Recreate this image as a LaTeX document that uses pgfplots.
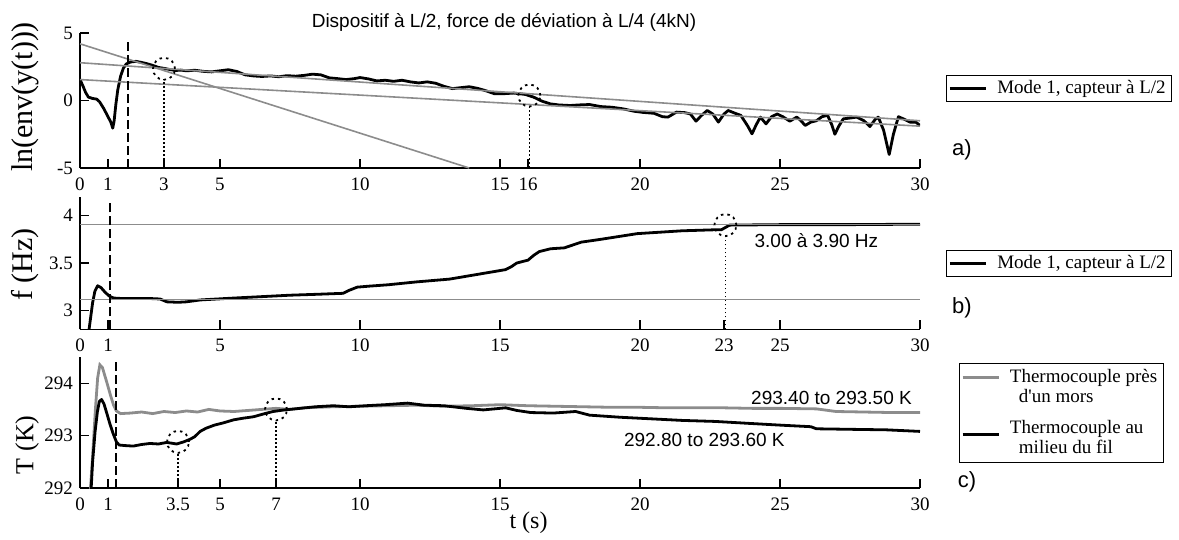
\documentclass[border=0pt]{standalone}
\usepackage{fontspec}
\setmainfont{Liberation Serif}
\newfontfamily\arial{Liberation Sans}
\usepackage{pgfplots}
\pgfplotsset{compat=1.18}
\definecolor{lgray}{RGB}{140,140,140}
\pgfplotsset{
  myaxis/.style={
    scale only axis, width=420pt,
    xmin=0, xmax=30,
    axis x line=bottom, axis y line=left,
    axis line style={-, line width=0.6pt},
    tick align=inside, major tick length=4.5pt,
    tick style={line width=0.6pt, black},
    ticklabel style={font=\fontsize{9.5}{11}\selectfont},
    xticklabel style={yshift=-1.3pt},
    legend style={draw=black, line width=0.5pt, font=\fontsize{9.5}{10}\selectfont,
      anchor=north west, inner xsep=1pt, inner ysep=0.5pt, nodes={inner sep=2pt},
      legend cell align=left},
    legend image code/.code={\draw[##1] (0pt,0pt) -- (18pt,0pt); \path (21pt,0pt);},
    clip=true,
  },
  blk/.style={black, line width=1.4pt, line join=round},
  gl/.style={lgray, line width=0.8pt},
  dashv/.style={black, line width=1pt, dash pattern=on 4.5pt off 2pt},
  dotv/.style={black, line width=0.8pt, dash pattern=on 0.8pt off 1.2pt},
  circ/.style={only marks, mark=o, mark size=5.5pt, mark options={black, line width=0.9pt, dash pattern=on 1.2pt off 2pt}},
}
\begin{document}
\begin{tikzpicture}
\path[use as bounding box] (0,0) rectangle (589.5pt,-270pt);
\node[font=\arial\fontsize{9.5}{11}\selectfont] at (252pt,-11pt) {Dispositif à L/2, force de déviation à L/4 (4kN)};

% ---------------- panel a
\begin{axis}[myaxis, at={(40pt,-84pt)}, anchor=south west, height=67.5pt,
  ymin=-5, ymax=5, ytick={-5,0,5}, yticklabels={-5,0,5},
  xtick={0,1,3,5,10,15,16,20,25,30}, xticklabels={0,1,3,5,10,15,16,20,25,30},
  ylabel={ln(env(y(t)))},
  ylabel style={at={(axis description cs:-0.0655,0.526)}, anchor=center, font=\fontsize{15}{17}\selectfont},
  legend style={at={(1.031,0.689)}}]
\addplot[blk] coordinates {
(0,1.55) (0.1,1.1) (0.2,0.6) (0.3,0.25) (0.45,0.15) (0.6,0.1) (0.7,-0.1) (0.85,-0.6)
(1.0,-1.2) (1.1,-1.6) (1.17,-2.05) (1.22,-1.5) (1.28,-0.3) (1.35,0.8) (1.45,1.8) (1.55,2.4)
(1.65,2.7) (1.8,2.85) (2.0,2.9) (2.2,2.82) (2.4,2.72) (2.6,2.6) (2.8,2.45) (3.0,2.38)
(3.2,2.3) (3.4,2.22) (3.6,2.25) (3.8,2.2) (4.1,2.24) (4.4,2.16) (4.7,2.12) (5.0,2.2)
(5.3,2.28) (5.6,2.15) (5.9,1.9) (6.2,1.82) (6.5,1.78) (6.8,1.82) (7.1,1.76) (7.4,1.84)
(7.7,1.8) (8.0,1.86) (8.3,1.95) (8.6,1.9) (8.9,1.68) (9.2,1.62) (9.5,1.55) (9.8,1.62)
(10.0,1.7) (10.3,1.6) (10.6,1.45) (10.9,1.5) (11.2,1.42) (11.5,1.5) (11.8,1.38) (12.1,1.3)
(12.4,1.38) (12.7,1.28) (13.0,1.05) (13.3,0.88) (13.6,0.95) (13.9,1.02) (14.2,0.9) (14.5,0.72)
(14.8,0.5) (15.1,0.5) (15.5,0.55) (15.9,0.45) (16.2,0.25) (16.5,-0.05) (16.8,-0.25) (17.1,-0.33)
(17.5,-0.37) (17.9,-0.32) (18.2,-0.3) (18.6,-0.45) (19.0,-0.5) (19.4,-0.62) (19.8,-0.8) (20.1,-0.88)
(20.5,-0.95) (20.8,-1.2) (21.0,-1.23) (21.3,-0.86) (21.6,-0.9) (21.8,-1.0) (22.0,-1.53) (22.2,-1.1)
(22.4,-0.74) (22.6,-1.0) (22.8,-1.6) (23.0,-1.0) (23.15,-0.74) (23.4,-0.95) (23.6,-1.1) (23.85,-1.9)
(24.0,-2.47) (24.15,-1.8) (24.3,-1.23) (24.5,-1.73) (24.7,-1.2) (24.9,-1.0) (25.1,-1.2) (25.35,-1.53)
(25.6,-1.23) (25.75,-1.5) (25.9,-1.85) (26.1,-1.6) (26.3,-1.5) (26.5,-1.2) (26.7,-1.1) (26.85,-1.8)
(26.96,-2.5) (27.1,-1.9) (27.26,-1.36) (27.5,-1.3) (27.74,-1.23) (28.0,-1.5) (28.21,-1.93) (28.4,-1.4)
(28.51,-1.23) (28.7,-2.2) (28.9,-4.0) (29.05,-2.5) (29.23,-1.2) (29.45,-1.4) (29.64,-1.6) (29.85,-1.6)
(30,-1.85)};
\addlegendentry{Mode 1, capteur à L/2}
\addplot[gl, forget plot] coordinates {(0,4.2) (13.9,-5)};
\addplot[gl, forget plot] coordinates {(0,2.8) (30,-1.5)};
\addplot[gl, forget plot] coordinates {(0,1.55) (30,-1.9)};
\addplot[dashv, forget plot] coordinates {(1.7,-5) (1.7,4.5)};
\addplot[dotv, forget plot] coordinates {(3,-5) (3,1.6)};
\addplot[dotv, forget plot] coordinates {(16.05,-5) (16.05,-0.37)};
\addplot[circ, forget plot] coordinates {(3,2.35) (16.05,0.37)};
\end{axis}

% ---------------- panel b
\begin{axis}[myaxis, at={(40pt,-164.65pt)}, anchor=south west, height=66.3pt,
  ymin=2.8, ymax=4.2, ytick={3,3.5,4}, yticklabels={3,3.5,4},
  xtick={0,1,5,10,15,20,23,25,30}, xticklabels={0,1,5,10,15,20,23,25,30},
  ylabel={f (Hz)},
  ylabel style={at={(axis description cs:-0.0655,0.49)}, anchor=center, font=\fontsize{15}{17}\selectfont},
  legend style={at={(1.031,0.598)}}]
\addplot[blk] coordinates {
(0.28,2.7) (0.36,2.88) (0.45,3.08) (0.53,3.2) (0.63,3.26) (0.75,3.24) (0.9,3.19) (1.05,3.15)
(1.2,3.13) (1.5,3.125) (2.0,3.125) (2.5,3.125) (2.86,3.12) (3.1,3.09) (3.5,3.085) (3.8,3.09)
(4.3,3.11) (4.9,3.12) (5.5,3.13) (6.5,3.145) (7.5,3.16) (8.5,3.17) (9.4,3.18) (9.6,3.21)
(9.9,3.245) (10.3,3.255) (11,3.27) (12,3.3) (13.2,3.33) (14.4,3.39) (15.2,3.43) (15.4,3.46)
(15.6,3.5) (16.0,3.53) (16.2,3.58) (16.4,3.62) (16.8,3.65) (17.3,3.66) (17.6,3.69) (17.9,3.72)
(18.6,3.75) (19.9,3.81) (21.5,3.84) (22.6,3.85) (22.9,3.85) (23.2,3.9) (25,3.905) (27.5,3.905)
(30,3.91)};
\addlegendentry{Mode 1, capteur à L/2}
\addplot[gl, forget plot] coordinates {(0,3.905) (30,3.905)};
\addplot[gl, forget plot] coordinates {(0,3.115) (30,3.115)};
\addplot[dashv, forget plot] coordinates {(1.07,2.8) (1.07,4.14)};
\addplot[dotv, forget plot] coordinates {(23.05,2.8) (23.05,3.77)};
\addplot[circ, forget plot] coordinates {(23.05,3.9)};
\node[font=\arial\fontsize{9.5}{11}\selectfont] at (axis cs:26.3,3.74) {3.00 à 3.90 Hz};
\end{axis}

% ---------------- panel c
\begin{axis}[myaxis, at={(40pt,-244pt)}, anchor=south west, height=65.5pt,
  ymin=292, ymax=294.5, ytick={292,293,294}, yticklabels={292,293,294},
  xtick={0,1,3.5,5,7,10,15,20,25,30}, xticklabels={0,1,3.5,5,7,10,15,20,25,30},
  ylabel={T (K)},
  ylabel style={at={(axis description cs:-0.063,0.33)}, anchor=center, font=\fontsize{13}{15}\selectfont},
  xlabel={t (s)},
  xlabel style={at={(axis description cs:0.534,-0.262)}, anchor=center, font=\fontsize{12}{14}\selectfont},
  legend style={at={(1.046,0.954)}, row sep=3.5pt, inner ysep=1pt, cells={align=left}}]
\addplot[lgray, line width=1.4pt, legend image post style={yshift=5pt}] coordinates {
(0.35,291.8) (0.45,292.6) (0.55,293.5) (0.63,294.1) (0.71,294.35) (0.8,294.3) (0.95,294.03) (1.1,293.75)
(1.2,293.58) (1.3,293.47) (1.45,293.42) (1.8,293.43) (2.2,293.45) (2.6,293.42) (3.0,293.46) (3.4,293.44)
(3.8,293.47) (4.2,293.45) (4.6,293.5) (5.0,293.47) (5.5,293.46) (6.0,293.48) (6.5,293.5) (7.0,293.52)
(7.5,293.5) (8,293.53) (9,293.55) (10,293.56) (11,293.57) (12,293.58) (13,293.56) (14,293.57)
(15,293.59) (16,293.57) (17,293.56) (18,293.55) (19,293.54) (20,293.54) (21,293.53) (22,293.53)
(23,293.53) (24,293.52) (25,293.52) (26.3,293.51) (27,293.46) (28,293.45) (29,293.44) (30,293.44)};
\addlegendentry{Thermocouple près\\\hspace*{4.5pt}d\textquotesingle un mors}
\addplot[blk, legend image post style={yshift=2pt}] coordinates {
(0.38,291.8) (0.45,292.5) (0.54,293.08) (0.62,293.45) (0.69,293.65) (0.77,293.69) (0.86,293.6) (0.95,293.44)
(1.07,293.22) (1.19,293.03) (1.3,292.88) (1.4,292.82) (1.6,292.81) (1.9,292.8) (2.2,292.83) (2.5,292.85)
(2.8,292.84) (3.1,292.87) (3.45,292.84) (3.7,292.88) (3.93,292.93) (4.1,292.98) (4.29,293.08) (4.5,293.14)
(4.8,293.2) (5.1,293.24) (5.48,293.3) (5.8,293.33) (6.2,293.36) (6.6,293.42) (6.9,293.46) (7.3,293.49)
(7.86,293.52) (8.4,293.55) (9.05,293.57) (9.6,293.55) (10.2,293.57) (10.9,293.59) (11.7,293.62) (12.3,293.58)
(13,293.57) (13.8,293.52) (14.4,293.49) (15.2,293.53) (15.6,293.48) (16.1,293.44) (16.9,293.43) (17.7,293.46)
(18.2,293.39) (19.3,293.35) (20.4,293.32) (21.5,293.29) (22.7,293.27) (24,293.23) (25,293.2) (26.1,293.17)
(26.3,293.13) (27.5,293.12) (28.8,293.11) (30,293.08)};
\addlegendentry{Thermocouple au\\\hspace*{4.5pt}milieu du fil}
\addplot[dashv, forget plot] coordinates {(1.29,292) (1.29,294.42)};
\addplot[dotv, forget plot] coordinates {(3.5,292) (3.5,292.66)};
\addplot[dotv, forget plot] coordinates {(7,292) (7,293.27)};
\addplot[circ, forget plot] coordinates {(3.5,292.88) (7,293.5)};
\node[font=\arial\fontsize{9.5}{11}\selectfont] at (axis cs:26.84,293.71) {293.40 to 293.50 K};
\node[font=\arial\fontsize{9.5}{11}\selectfont] at (axis cs:22.3,292.92) {292.80 to 293.60 K};
\end{axis}

\node[font=\arial\fontsize{11}{13}\selectfont] at (481pt,-75pt) {a)};
\node[font=\arial\fontsize{11}{13}\selectfont] at (481pt,-154pt) {b)};
\node[font=\arial\fontsize{11}{13}\selectfont] at (483.5pt,-241pt) {c)};
\end{tikzpicture}
\end{document}
